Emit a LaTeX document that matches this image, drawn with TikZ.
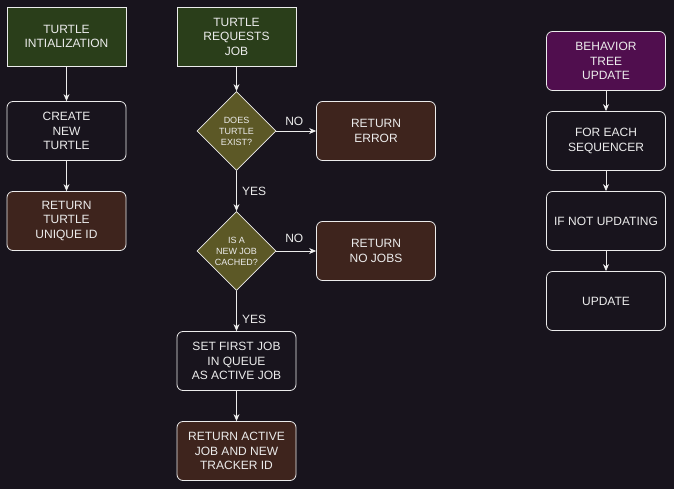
\documentclass[tikz,border=0pt]{standalone}
\usepackage{fontspec}
\setmainfont{Liberation Sans}
\usetikzlibrary{shapes.geometric,arrows.meta}
\definecolor{bgdark}{RGB}{24,20,29}
\definecolor{startgreen}{RGB}{42,62,26}
\definecolor{endbrown}{RGB}{62,36,29}
\definecolor{askolive}{RGB}{92,88,38}
\definecolor{treepurple}{RGB}{80,14,78}
\definecolor{inkwhite}{RGB}{236,236,236}
\begin{document}
\begin{tikzpicture}[x=1pt,y=-1pt,>={Stealth[length=7pt,width=6pt]},
  every node/.style={text=inkwhite,font=\fontsize{12}{14.5}\selectfont,align=center},
  box/.style={draw=inkwhite,line width=0.8pt,minimum width=119pt,minimum height=59pt,inner sep=2pt},
  startbox/.style={box,fill=startgreen},
  stepbox/.style={box,rounded corners=6pt,fill=bgdark},
  endbox/.style={box,rounded corners=6pt,fill=endbrown},
  treebox/.style={box,rounded corners=6pt,fill=treepurple},
  ask/.style={diamond,draw=inkwhite,line width=0.8pt,fill=askolive,minimum width=79pt,minimum height=79pt,inner sep=0pt,font=\fontsize{9}{11}\selectfont},
  flow/.style={->,draw=inkwhite,line width=0.8pt}]
\fill[bgdark] (0,0) rectangle (674,489);
\useasboundingbox (0,0) rectangle (674,489);

% turtle initialization
\node[startbox] (init) at (66.5,36.5) {TURTLE\\INTIALIZATION};
\node[stepbox] (create) at (66.5,131) {CREATE\\NEW\\TURTLE};
\node[endbox] (uid) at (66.5,221) {RETURN\\TURTLE\\UNIQUE ID};
\draw[flow] (init) -- (create);
\draw[flow] (create) -- (uid);

% turtle requests job
\node[startbox] (request) at (236.5,36.5) {TURTLE\\REQUESTS\\JOB};
\node[ask] (exists) at (236.5,131) {DOES\\TURTLE\\EXIST?};
\node[endbox] (error) at (376,131) {RETURN\\ERROR};
\node[ask] (cached) at (236.5,251) {IS A\\NEW JOB\\CACHED?};
\node[endbox] (nojobs) at (376,251) {RETURN\\NO JOBS};
\node[stepbox] (setjob) at (236.5,361) {SET FIRST JOB\\IN QUEUE\\AS ACTIVE JOB};
\node[endbox] (tracker) at (236.5,451) {RETURN ACTIVE\\JOB AND NEW\\TRACKER ID};
\draw[flow] (request) -- (exists);
\draw[flow] (exists) -- node[midway,above,xshift=-2pt,yshift=2pt] {NO} (error);
\draw[flow] (exists) -- node[midway,right,xshift=2pt] {YES} (cached);
\draw[flow] (cached) -- node[midway,above,xshift=-2pt,yshift=5pt] {NO} (nojobs);
\draw[flow] (cached) -- node[pos=0.72,right,xshift=2pt] {YES} (setjob);
\draw[flow] (setjob) -- (tracker);

% behavior tree update
\node[treebox] (tree) at (606,61) {BEHAVIOR\\TREE\\UPDATE};
\node[stepbox] (foreach) at (606,141) {FOR EACH\\SEQUENCER};
\node[stepbox] (notupd) at (606,221) {IF NOT UPDATING};
\node[stepbox] (update) at (606,301) {UPDATE};
\draw[flow] (tree) -- (foreach);
\draw[flow] (foreach) -- (notupd);
\draw[flow] (notupd) -- (update);
\end{tikzpicture}
\end{document}
